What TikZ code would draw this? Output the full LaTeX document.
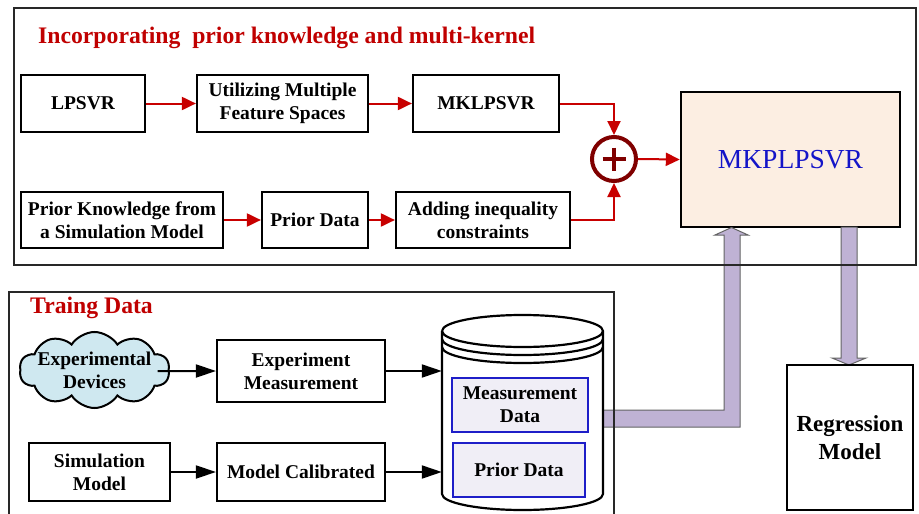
\documentclass[tikz,border=0pt]{standalone}
\usepackage{fontspec}
\setmainfont{Liberation Serif}
\usetikzlibrary{arrows.meta,shapes.symbols,calc}
\definecolor{redarrow}{RGB}{200,0,0}
\definecolor{darkred}{RGB}{128,0,0}
\definecolor{titlered}{RGB}{192,0,0}
\definecolor{mkfill}{RGB}{252,238,226}
\definecolor{mkblue}{RGB}{20,20,200}
\definecolor{innerfill}{RGB}{240,238,246}
\definecolor{innerblue}{RGB}{30,30,200}
\definecolor{cloudfill}{RGB}{207,232,240}
\definecolor{fatfill}{RGB}{191,178,212}
\definecolor{fatdraw}{RGB}{100,100,100}
\definecolor{framegray}{RGB}{40,40,40}
\tikzset{
  boxtxt/.style={font=\fontsize{19.5}{23}\selectfont\bfseries, align=center},
  stepbox/.style={draw=black, line width=2.2pt, fill=white, inner sep=0pt, boxtxt},
  innerbox/.style={draw=innerblue, line width=1.2pt, fill=innerfill, inner sep=0pt, boxtxt},
  redarr/.style={draw=redarrow, line width=2pt, -{Triangle[length=14pt,width=13pt]}},
  blackarr/.style={draw=black, line width=2pt, -{Triangle[length=20pt,width=13pt]}},
  fat/.style={fill=fatfill, draw=fatdraw, line width=1pt, line join=miter},
  frame/.style={draw=framegray, line width=1.2pt},
  titletxt/.style={text=titlered, font=\fontsize{23.7}{28}\selectfont\bfseries, anchor=west, inner sep=0pt}
}
\begin{document}
\begin{tikzpicture}[x=1pt,y=-1pt]
\useasboundingbox (0,0) rectangle (919,514);
\fill[white] (0,0) rectangle (919,514);

% titles
\node[titletxt] (t1) at (38,38) {Incorporating~ prior knowledge and multi-kernel};
\node[titletxt] (t2) at (30,308) {Traing Data};

% top row
\node[stepbox, minimum width=124pt, minimum height=57pt] (lpsvr) at (83,103.5) {LPSVR};
\node[stepbox, minimum width=171pt, minimum height=57pt] (ufs) at (282.5,103.5) {Utilizing Multiple\\Feature Spaces};
\node[stepbox, minimum width=146pt, minimum height=57pt] (mklpsvr) at (486,103.5) {MKLPSVR};
\node[stepbox, minimum width=202pt, minimum height=56pt] (pk) at (122,220) {Prior Knowledge from\\ a Simulation Model};
\node[stepbox, minimum width=106pt, minimum height=56pt] (pd) at (315,220) {Prior Data};
\node[stepbox, minimum width=174pt, minimum height=56pt] (aic) at (483,220) {Adding inequality\\constraints};
\node[circle, draw=darkred, line width=4pt, minimum size=44pt, inner sep=0pt] (plus) at (614,159) {};
\draw[darkred, line width=4pt] ($(plus.center)+(-11.5,0)$) -- ($(plus.center)+(11.5,0)$)
  ($(plus.center)+(0,-11.5)$) -- ($(plus.center)+(0,11.5)$);
\node[draw=black, line width=2.4pt, fill=mkfill, minimum width=219pt, minimum height=135pt, inner sep=0pt,
  text=mkblue, font=\fontsize{27.5}{32}\selectfont] (mkp) at (790.5,159.5) {MKPLPSVR};

\draw[redarr] (lpsvr.east) -- (ufs.west);
\draw[redarr] (ufs.east) -- (mklpsvr.west);
\draw[redarr] (mklpsvr.east) -| (plus.north);
\draw[redarr] (pk.east) -- (pd.west);
\draw[redarr] (pd.east) -- (aic.west);
\draw[redarr] (aic.east) -| (plus.south);
\draw[redarr] (plus.east) -- (mkp.west);

% bottom part
\node[cloud, cloud puffs=10, cloud puff arc=115, draw=black, line width=2pt, fill=cloudfill,
  minimum width=150pt, minimum height=76pt, inner sep=0pt,
  label={[boxtxt, inner sep=0pt]center:Experimental\\Devices}] (cloud) at (94.5,370) {};
\node[stepbox, minimum width=168pt, minimum height=62pt] (em) at (301,371) {Experiment\\Measurement};
\node[stepbox, minimum width=141pt, minimum height=58pt] (sm) at (99.5,472) {Simulation\\Model};
\node[stepbox, minimum width=168pt, minimum height=58pt] (mc) at (301,472) {Model Calibrated};

% fat arrows (behind cylinder)
\draw[fat] (600,410) -- (724,410) -- (724,235) -- (715,235) -- (731.5,227.5) -- (748,235) -- (740,235) -- (740,427) -- (600,427) -- cycle;
\draw[fat] (841,227) -- (841,358) -- (832,358) -- (849,365) -- (866,358) -- (857,358) -- (857,227) -- cycle;

% cylinder
\node[minimum width=161pt, minimum height=195pt, inner sep=0pt] (cyl) at (522.5,412.5) {};
\begin{scope}[line width=2.2pt]
\filldraw[fill=white] (442,331) -- (442,494) arc[start angle=180, end angle=360, x radius=80.5, y radius=-16] -- (603,331)
  arc[start angle=0, end angle=180, x radius=80.5, y radius=-16];
\draw (442,331) arc[start angle=180, end angle=360, x radius=80.5, y radius=-16];
\draw (442,339) arc[start angle=180, end angle=360, x radius=80.5, y radius=-16];
\draw (442,347) arc[start angle=180, end angle=360, x radius=80.5, y radius=-16];
\end{scope}
\node[innerbox, minimum width=136pt, minimum height=54pt] (md) at (520,405) {Measurement\\Data};
\node[innerbox, minimum width=132pt, minimum height=54pt] (pd2) at (519,470) {Prior Data};

\draw[blackarr] ($(cloud.east)+(-12,1)$) -- (em.west);
\draw[blackarr] (em.east) -- (em.east -| cyl.west);
\draw[blackarr] (sm.east) -- (mc.west);
\draw[blackarr] (mc.east) -- (mc.east -| cyl.west);

\node[stepbox, minimum width=126pt, minimum height=145pt, font=\fontsize{23}{28}\selectfont\bfseries] (reg) at (850,437.5) {Regression\\Model};

% frames
\draw[frame] (14,8) rectangle (916,265);
\draw[frame] (9,520) -- (9,292) -- (614,292) -- (614,520);
\end{tikzpicture}
\end{document}
